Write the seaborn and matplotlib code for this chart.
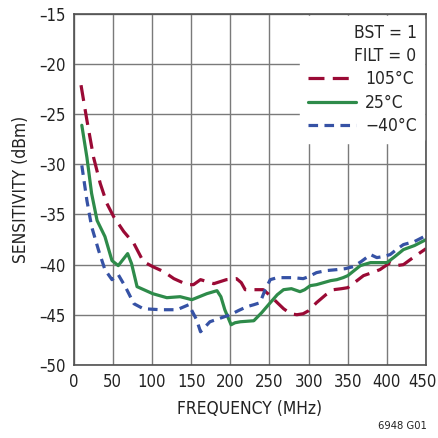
import matplotlib
matplotlib.use("Agg")
import matplotlib.pyplot as plt
import matplotlib.transforms as mtransforms
import seaborn as sns
import pandas as pd

freq_105 = [9.5, 17, 25.5, 34, 42.5, 51, 64, 77, 89, 101, 115, 128, 145, 153, 162, 179, 195, 208, 214, 219, 230, 242, 251, 260, 268, 277, 285, 293, 300, 310, 322, 332, 342, 350, 360, 370, 381, 391, 404, 412, 421, 435, 450]
sens_105 = [-22.1, -25.6, -29.3, -31.9, -33.9, -35.2, -36.7, -37.9, -39.7, -40.2, -40.7, -41.4, -42.0, -42.0, -41.5, -41.9, -41.5, -41.4, -41.8, -42.5, -42.5, -42.5, -43.1, -43.8, -44.4, -44.9, -45.0, -44.9, -44.6, -43.8, -43.0, -42.5, -42.4, -42.3, -41.7, -41.1, -40.8, -40.5, -39.8, -40.1, -40.0, -39.2, -38.4]

freq_25 = [10.5, 17, 23, 30, 40, 49, 57, 64, 69, 74, 81, 101, 119, 136, 151, 170, 183, 188, 193, 201, 206, 213, 230, 240, 251, 260, 268, 278, 289, 295, 302, 310, 319, 328, 336, 344, 350, 358, 366, 379, 390, 400, 410, 421, 435, 450]
sens_25 = [-26.1, -29.3, -32.9, -35.6, -37.2, -39.6, -40.1, -39.4, -38.9, -39.9, -42.2, -42.9, -43.3, -43.2, -43.5, -42.9, -42.6, -43.2, -44.5, -46.0, -45.8, -45.7, -45.6, -44.8, -43.8, -43.0, -42.5, -42.4, -42.7, -42.5, -42.1, -42.0, -41.8, -41.6, -41.5, -41.3, -41.1, -40.6, -40.1, -39.8, -39.8, -39.8, -39.2, -38.5, -38.1, -37.5]

freq_m40 = [10.5, 17, 23, 32, 40, 49, 57, 66, 77, 89, 111, 132, 147, 153, 157, 162, 168, 174, 185, 200, 210, 221, 230, 238, 244, 251, 260, 268, 280, 293, 300, 310, 322, 336, 347, 357, 367, 379, 387, 395, 404, 412, 421, 435, 450]
sens_m40 = [-30.1, -33.6, -36.2, -38.6, -40.5, -41.5, -41.0, -42.2, -43.9, -44.4, -44.5, -44.5, -44.0, -44.9, -45.5, -46.7, -46.2, -45.7, -45.4, -45.0, -44.6, -44.2, -44.0, -43.8, -42.6, -41.5, -41.3, -41.3, -41.3, -41.4, -41.2, -40.8, -40.6, -40.5, -40.4, -40.2, -39.7, -39.0, -39.3, -39.2, -39.0, -38.5, -38.0, -37.7, -37.1]

labels = ["105°C", "25°C", "\u221240°C"]
x_ticks = [0, 50, 100, 150, 200, 250, 300, 350, 400, 450]
y_ticks = [-50, -45, -40, -35, -30, -25, -20, -15]

df = pd.concat([
    pd.DataFrame({"freq": freq_105, "sens": sens_105, "temp": labels[0]}),
    pd.DataFrame({"freq": freq_25, "sens": sens_25, "temp": labels[1]}),
    pd.DataFrame({"freq": freq_m40, "sens": sens_m40, "temp": labels[2]}),
], ignore_index=True)

sns.set_style("white")
plt.rcParams["font.family"] = ["DejaVu Sans"]
plt.rcParams["font.stretch"] = "condensed"
plt.rcParams["axes.unicode_minus"] = True

fig = plt.figure(figsize=(4.38, 4.38), dpi=100)
ax = fig.add_axes([0.168, 0.167, 0.805, 0.801])

palette = {labels[0]: "#9a0a35", labels[1]: "#2e8b4a", labels[2]: "#3652a5"}
dashes = {labels[0]: (5, 2.6), labels[1]: "", labels[2]: (3, 2)}

sns.lineplot(data=df, x="freq", y="sens", hue="temp", style="temp",
             palette=palette, dashes=dashes, sort=False, estimator=None,
             linewidth=2.3, ax=ax)
for ln in ax.get_lines():
    ln.set_solid_joinstyle("round")
    ln.set_dash_joinstyle("round")

ax.set_xlim(0, 450)
ax.set_ylim(-50, -15)
ax.set_xticks(x_ticks)
ax.set_yticks(y_ticks)
ax.set_xticklabels([str(t) for t in x_ticks])
ax.set_yticklabels([str(t).replace("-", "\u2013") for t in y_ticks])
ax.grid(True, color="#7a7a7a", linewidth=1.0)
ax.set_axisbelow(True)
for s in ax.spines.values():
    s.set_color("#505050")
    s.set_linewidth(1.2)
ax.tick_params(axis="both", length=0, labelsize=12, colors="#222222", pad=6)
ax.set_xlabel("FREQUENCY (MHz)", fontsize=12.5, color="#222222", labelpad=6)
ax.set_ylabel("SENSITIVITY (dBm)", fontsize=12.5, color="#222222", labelpad=6)

# nudge the last x tick label so it stays inside the canvas
last = ax.get_xticklabels()[-1]
last.set_transform(last.get_transform() + mtransforms.ScaledTranslation(-4 / 100, 0, fig.dpi_scale_trans))

handles, lbls = ax.get_legend_handles_labels()
leg = ax.legend(handles, lbls, title="BST = 1\nFILT = 0", loc="upper right",
                frameon=True, fontsize=12.5, title_fontsize=12.5, alignment="right",
                handlelength=2.8, handletextpad=0.5, borderaxespad=0.1,
                labelspacing=0.3, borderpad=0.45)
leg.get_title().set_linespacing(1.4)
leg.get_frame().set_facecolor("white")
leg.get_frame().set_edgecolor("white")
leg.get_frame().set_alpha(1)

fig.text(0.975, 0.015, "6948 G01", ha="right", va="bottom", fontsize=8, color="#222222")

fig.savefig("out.png", dpi=100)
